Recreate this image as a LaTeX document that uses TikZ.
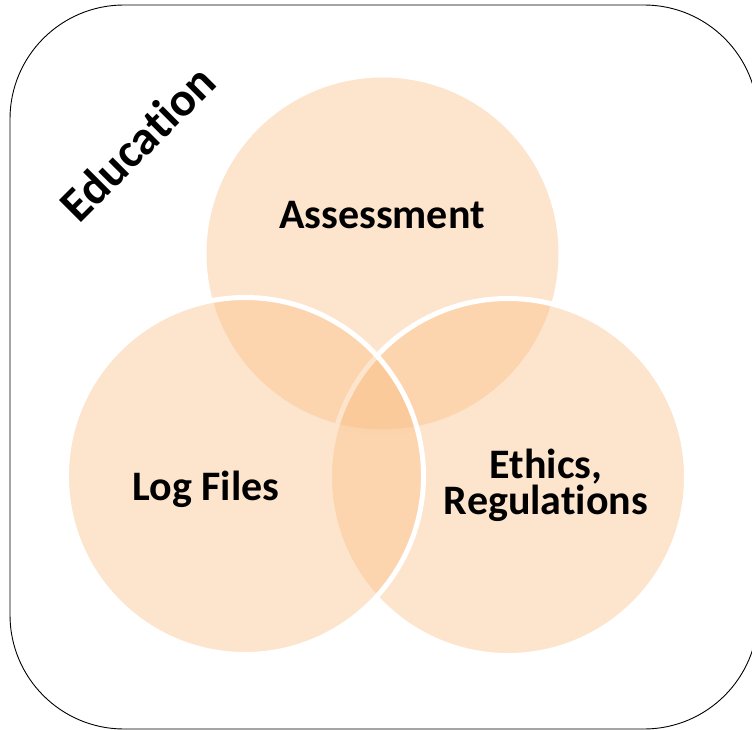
\documentclass[tikz,border=0pt]{standalone}
\usepackage{fontspec}
\setmainfont[Ligatures=NoCommon]{Carlito}
\definecolor{peach}{RGB}{250,188,128}
\tikzset{
  venn/.style={circle, minimum size=357pt, inner sep=0pt, fill=peach, fill opacity=0.4, draw=white, line width=5pt},
  lbl/.style={font=\bfseries\fontsize{42}{36}\selectfont, align=center, text=black}
}
\begin{document}
\begin{tikzpicture}[x=1pt, y=-1pt]
\useasboundingbox (0,0) rectangle (752,730);
\draw[rounded corners=114pt, line width=0.9pt] (10,5) rectangle (758,729);
\node[venn] (ass) at (382.5,253.5) {};
\node[venn] (eth) at (508,477) {};
\node[venn] (log) at (245,476) {};
\node[lbl] (tass) at (382,215) {Assessment};
\node[lbl] (tlog) at (206,489) {Log Files};
\node[lbl] (teth) at (546,485) {Ethics,\\Regulations};
\node[lbl, font=\bfseries\fontsize{48}{50}\selectfont, rotate=45] (tedu) at (137,143) {Education};
\end{tikzpicture}
\end{document}
